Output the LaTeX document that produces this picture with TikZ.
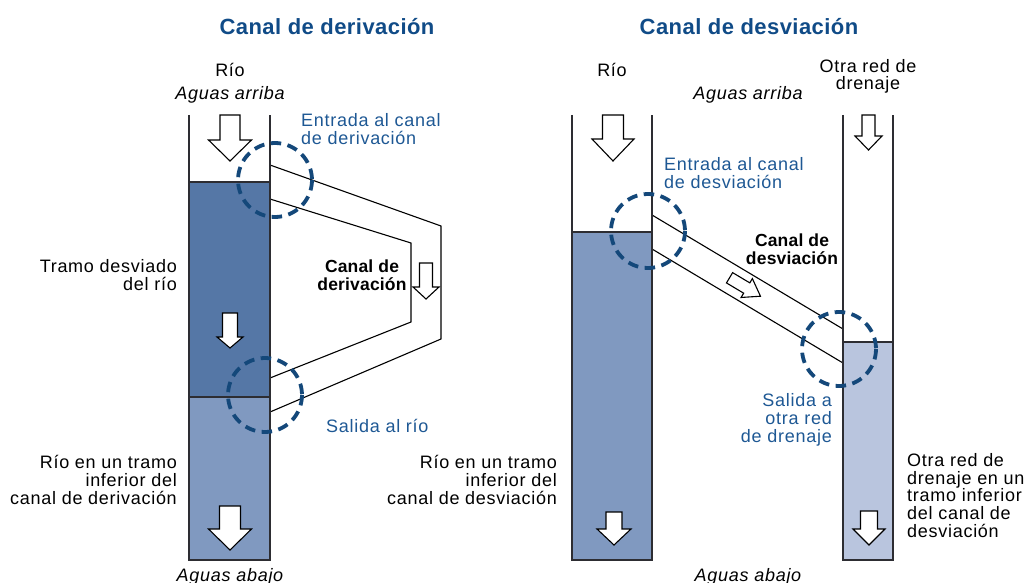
\documentclass[tikz,border=0pt]{standalone}
\usepackage{fontspec}
\setmainfont{Liberation Sans}[LetterSpace=4]
\newfontfamily\titlefont{Liberation Sans}[LetterSpace=2]
\newfontfamily\boldbody{Liberation Sans}[LetterSpace=1]
\definecolor{titleblue}{RGB}{16,75,135}
\definecolor{dashblue}{RGB}{20,72,122}
\definecolor{labelblue}{RGB}{30,88,148}
\definecolor{darkfill}{RGB}{85,119,166}
\definecolor{midfill}{RGB}{128,153,192}
\definecolor{lightfill}{RGB}{185,197,222}
\definecolor{wallgray}{RGB}{45,45,50}
\newcommand\flowarrowdown[6]{%
  \draw[flowarrow] (#1-#3,#2) -- (#1+#3,#2) -- (#1+#3,#5) -- (#1+#4,#5) -- (#1,#6) -- (#1-#4,#5) -- (#1-#3,#5) -- cycle;}
\begin{document}
\begin{tikzpicture}[x=1pt,y=-1pt,
  wall/.style={draw=wallgray, line width=1.4pt},
  canalline/.style={draw=black, line width=1.1pt},
  flowarrow/.style={draw=black, fill=white, line width=1.1pt, line join=miter},
  ring/.style={draw=dashblue, line width=3.8pt, dash pattern=on 10.5pt off 6.5pt},
  lbl/.style={font=\fontsize{18}{17.6}\selectfont, inner sep=0pt},
  ital/.style={font=\fontsize{18}{17.6}\selectfont\itshape, inner sep=0pt},
  bluelbl/.style={lbl, text=labelblue},
  boldlbl/.style={font=\boldbody\fontsize{17.5}{17.5}\selectfont\bfseries, inner sep=0pt},
  ttl/.style={font=\titlefont\fontsize{22}{24}\selectfont\bfseries, text=titleblue, inner sep=0pt}]
\useasboundingbox (0,0) rectangle (1027,583);

% ---------- left diagram: Canal de derivacion ----------
\fill[darkfill] (189,182) rectangle (270,397);
\fill[midfill] (189,397) rectangle (270,560);
\draw[canalline] (270,165) -- (441,226) -- (441,339) -- (270,412);
\draw[canalline] (270,199) -- (411,243) -- (411,322) -- (270,378);
\draw[wall] (189,115) -- (189,560) -- (270,560) -- (270,115);
\draw[wall] (189,182) -- (270,182);
\draw[wall] (189,397) -- (270,397);
\flowarrowdown{230}{115}{10}{21.5}{140}{161}
\flowarrowdown{230}{313}{7.5}{13}{337}{348}
\flowarrowdown{230}{506}{10.5}{21.5}{529}{550}
\flowarrowdown{426}{263}{6.5}{13}{287}{299}
\draw[ring] (275,180) circle[radius=37];
\draw[ring] (265,395) circle[radius=37];

\node[ttl, anchor=base] (t1) at (327,35) {Canal de derivación};
\node[lbl, anchor=base] (rio1) at (230,77) {Río};
\node[ital, anchor=base] (arriba1) at (230,100) {Aguas arriba};
\node[bluelbl, anchor=base west, align=left] (entrada1) at (301,144) {Entrada al canal\\de derivación};
\node[lbl, anchor=base east, align=right] (tramo1) at (177,290) {Tramo desviado\\del río};
\node[boldlbl, anchor=base, align=center] (canal1) at (362,290) {Canal de\\derivación};
\node[bluelbl, anchor=base west] (salida1) at (326,432) {Salida al río};
\node[lbl, anchor=base east, align=right] (inf1) at (177,504) {Río en un tramo\\inferior del\\canal de derivación};
\node[ital, anchor=base] (abajo1) at (230,581) {Aguas abajo};

% ---------- right diagram: Canal de desviacion ----------
\fill[midfill] (572,232) rectangle (652,560);
\fill[lightfill] (843,342) rectangle (893,560);
\draw[canalline] (652,215) -- (843,329);
\draw[canalline] (652,249) -- (843,363);
\draw[wall] (572,115) -- (572,560) -- (652,560) -- (652,115);
\draw[wall] (572,232) -- (652,232);
\draw[wall] (843,115) -- (843,560) -- (893,560) -- (893,115);
\draw[wall] (843,342) -- (893,342);
\flowarrowdown{613}{115}{10.5}{21}{139}{161}
\flowarrowdown{614}{512}{8}{17}{529}{545}
\flowarrowdown{868.5}{115}{6.5}{13.5}{136}{150}
\flowarrowdown{869}{511}{8.5}{16}{529}{545}
\begin{scope}[shift={(745,287)}, rotate=-30.8]
  \draw[flowarrow] (-18,-6) -- (2,-6) -- (2,-11) -- (18,0) -- (2,11) -- (2,6) -- (-18,6) -- cycle;
\end{scope}
\draw[ring] (648,231) circle[radius=37];
\draw[ring] (839,349) circle[radius=37];

\node[ttl, anchor=base] (t2) at (749,35) {Canal de desviación};
\node[lbl, anchor=base] (rio2) at (612,77) {Río};
\node[lbl, anchor=base, align=center] (otra2) at (868,90) {Otra red de\\drenaje};
\node[ital, anchor=base] (arriba2) at (748,100) {Aguas arriba};
\node[bluelbl, anchor=base west, align=left] (entrada2) at (664,188) {Entrada al canal\\de desviación};
\node[boldlbl, anchor=base, align=center] (canal2) at (792,264) {Canal de\\desviación};
\node[bluelbl, anchor=base east, align=right] (salida2) at (832,442) {Salida a\\otra red\\de drenaje};
\node[lbl, anchor=base east, align=right] (inf2) at (557,504) {Río en un tramo\\inferior del\\canal de desviación};
\node[lbl, anchor=base west, align=left] (otrainf2) at (907,537) {Otra red de\\drenaje en un\\tramo inferior\\del canal de\\desviación};
\node[ital, anchor=base] (abajo2) at (748,581) {Aguas abajo};
\end{tikzpicture}
\end{document}
